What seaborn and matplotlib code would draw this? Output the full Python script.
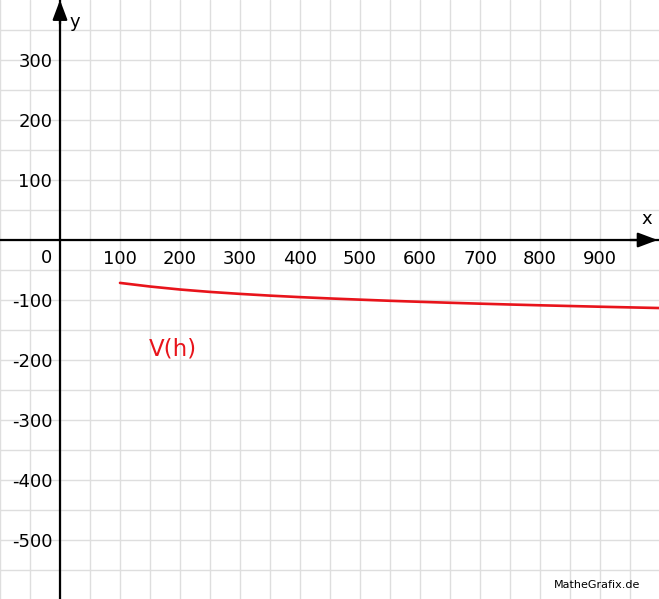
import matplotlib
matplotlib.use("Agg")
import matplotlib.pyplot as plt
import numpy as np
import pandas as pd
import seaborn as sns

h_values = [100, 150, 200, 250, 300, 350, 400, 450, 500, 550,
            600, 650, 700, 750, 800, 850, 900, 950, 1000]
v_values = [-71.5, -77.5, -82.5, -86.5, -89.8, -92.7, -95.2, -97.4, -99.4, -101.3,
            -103.0, -104.6, -106.1, -107.5, -108.8, -110.0, -111.2, -112.3, -113.4]
x_ticks = [100, 200, 300, 400, 500, 600, 700, 800, 900]
y_ticks = [-500, -400, -300, -200, -100, 100, 200, 300]

sns.set_style("white")
plt.rcParams['font.family'] = ['DejaVu Sans']
plt.rcParams['axes.unicode_minus'] = False
plt.rcParams['text.color'] = 'black'
plt.rcParams['xtick.color'] = 'black'
plt.rcParams['ytick.color'] = 'black'

fig = plt.figure(figsize=(6.59, 5.99), dpi=100)
ax = fig.add_axes([0, 0, 1, 1])

df = pd.DataFrame({"h": h_values, "V": v_values})
sns.lineplot(data=df, x="h", y="V", color="#e8141b", linewidth=1.9, ax=ax)

ax.set_xlim(-100, 998.3)
ax.set_ylim(-598.3, 400)

# grid every 50 units
ax.set_xticks(x_ticks)
ax.set_yticks(y_ticks)
ax.set_xticks(np.arange(-100, 1000, 50), minor=True)
ax.set_yticks(np.arange(-550, 400, 50), minor=True)
ax.grid(which="both", color="#dedede", linewidth=1.0)
ax.set_axisbelow(True)

# axes through the origin
for side in ["top", "right"]:
    ax.spines[side].set_visible(False)
ax.spines["left"].set_position("zero")
ax.spines["bottom"].set_position("zero")
ax.spines["left"].set_linewidth(1.6)
ax.spines["bottom"].set_linewidth(1.6)
ax.spines["left"].set_color("black")
ax.spines["bottom"].set_color("black")
ax.tick_params(which="major", direction="inout", length=9, width=1.3, labelsize=13,
               colors="black")
ax.tick_params(axis="x", pad=3)
ax.tick_params(axis="y", pad=1)
ax.tick_params(which="minor", length=0)
ax.set_xlabel("")
ax.set_ylabel("")

# arrows
ax.annotate("", xy=(0, 400), xytext=(0, 360),
            arrowprops=dict(arrowstyle="-|>,head_length=1.2,head_width=0.45",
                            color="black", lw=1.6, shrinkA=0, shrinkB=0))
ax.annotate("", xy=(996, 0), xytext=(950, 0),
            arrowprops=dict(arrowstyle="-|>,head_length=1.2,head_width=0.45",
                            color="black", lw=1.6, shrinkA=0, shrinkB=0))

ax.text(-22, -30, "0", fontsize=13, ha="center", va="center")
ax.text(25, 363, "y", fontsize=13, ha="center", va="center")
ax.text(978, 35, "x", fontsize=13, ha="center", va="center")
ax.text(188, -182, "V(h)", fontsize=16.5, color="#e8141b", ha="center", va="center")
ax.text(895, -575, "MatheGrafix.de", fontsize=8, ha="center", va="center")

fig.savefig("out.png", dpi=100)
